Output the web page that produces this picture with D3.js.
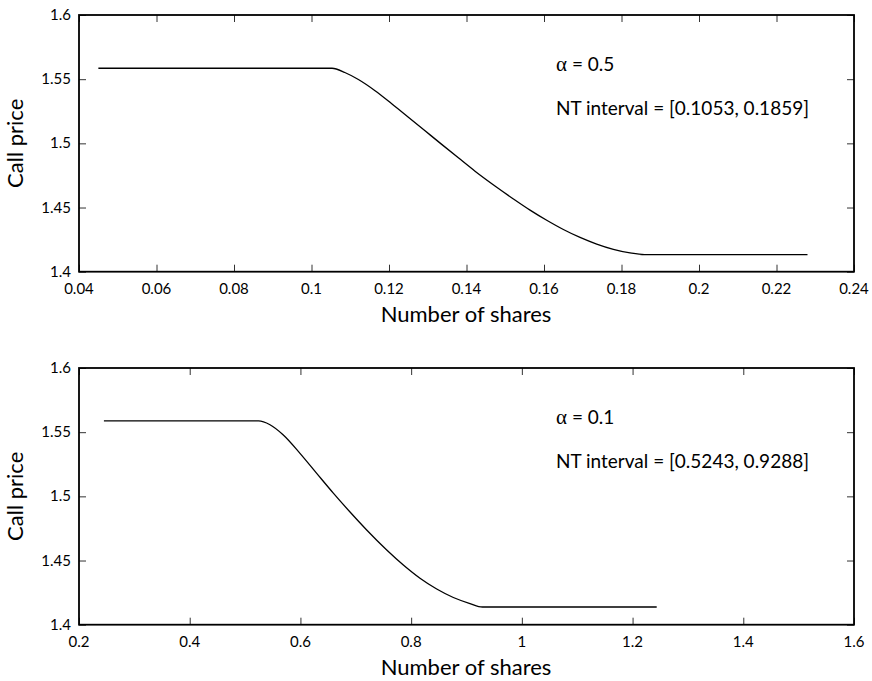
<!DOCTYPE html>
<html>
<head>
<meta charset="utf-8">
<script src="https://cdn.jsdelivr.net/npm/d3@7"></script>
<style>
  html, body { margin: 0; padding: 0; background: #fff; }
  svg { display: block; }
  text { font-family: Lato, "Open Sans", sans-serif; fill: #000; }
</style>
</head>
<body>
<svg id="chart" width="872" height="681"></svg>
<script>
// ---- Data ----
const topShares = [0.045, 0.1053, 0.1086, 0.1121, 0.1164, 0.1207, 0.1250, 0.1293, 0.1336, 0.1379, 0.1422, 0.1478, 0.1521, 0.1564, 0.1607, 0.1650, 0.1693, 0.1736, 0.1779, 0.1822, 0.1859, 0.228];
const topPrice  = [1.5585, 1.5585, 1.5552, 1.5497, 1.5410, 1.5309, 1.5204, 1.5098, 1.4992, 1.4887, 1.4783, 1.4658, 1.4567, 1.4480, 1.4401, 1.4329, 1.4267, 1.4215, 1.4174, 1.4146, 1.4133, 1.4133];

const botShares = [0.245, 0.5243, 0.5450, 0.5691, 0.5992, 0.6294, 0.6594, 0.6896, 0.7197, 0.7559, 0.7859, 0.8160, 0.8462, 0.8762, 0.9063, 0.9288, 1.2436];
const botPrice  = [1.5588, 1.5588, 1.5558, 1.5478, 1.5335, 1.5179, 1.5025, 1.4878, 1.4738, 1.4582, 1.4465, 1.4362, 1.4278, 1.4212, 1.4165, 1.4138, 1.4138];

const topXTicks = [0.04, 0.06, 0.08, 0.1, 0.12, 0.14, 0.16, 0.18, 0.2, 0.22, 0.24];
const botXTicks = [0.2, 0.4, 0.6, 0.8, 1, 1.2, 1.4, 1.6];
const yTicks = [1.4, 1.45, 1.5, 1.55, 1.6];

const topAlpha = "0.5";
const botAlpha = "0.1";
const topInterval = "[0.1053, 0.1859]";
const botInterval = "[0.5243, 0.9288]";

const xLabel = "Number of shares";
const yLabel = "Call price";

// ---- Drawing ----
const svg = d3.select("#chart");
const fmt = d => String(+d.toFixed(4));

function panel(opts) {
  const left = 79, right = 854, top = opts.top, bottom = opts.top + 256.7;
  const x = d3.scaleLinear().domain(opts.xDomain).range([left, right]);
  const y = d3.scaleLinear().domain([1.4, 1.6]).range([bottom, top]);
  const g = svg.append("g");
  const tickLen = 7;

  // inward ticks on all four sides
  const ax = [
    {axis: d3.axisBottom(x).tickValues(opts.xTicks).tickSize(tickLen).tickFormat(""), tr: `translate(0,${top})`},
    {axis: d3.axisTop(x).tickValues(opts.xTicks).tickSize(tickLen).tickFormat(""), tr: `translate(0,${bottom})`},
    {axis: d3.axisRight(y).tickValues(yTicks).tickSize(tickLen).tickFormat(""), tr: `translate(${left},0)`},
    {axis: d3.axisLeft(y).tickValues(yTicks).tickSize(tickLen).tickFormat(""), tr: `translate(${right},0)`}
  ];
  ax.forEach(a => {
    const ag = g.append("g").attr("transform", a.tr).call(a.axis);
    ag.select(".domain").remove();
    ag.selectAll(".tick line").attr("stroke", "#333").attr("stroke-width", 1);
  });

  // tick labels
  g.append("g").selectAll("text").data(opts.xTicks).join("text")
    .attr("x", d => x(d)).attr("y", bottom + 22)
    .attr("text-anchor", "middle").attr("font-size", 15)
    .text(fmt);
  g.append("g").selectAll("text").data(yTicks).join("text")
    .attr("x", left - 8).attr("y", d => y(d) + 5)
    .attr("text-anchor", "end").attr("font-size", 15)
    .text(fmt);

  // frame
  g.append("rect").attr("x", left).attr("y", top)
    .attr("width", right - left).attr("height", bottom - top)
    .attr("fill", "none").attr("stroke", "#000").attr("stroke-width", 1.8);

  // curve
  const pts = opts.xs.map((v, i) => [v, opts.ys[i]]);
  g.append("path").datum(pts)
    .attr("fill", "none").attr("stroke", "#000").attr("stroke-width", 1.3)
    .attr("d", d3.line().x(d => x(d[0])).y(d => y(d[1])).curve(d3.curveMonotoneX));

  // annotations
  const a1 = g.append("text").attr("x", 556).attr("y", top + 56).attr("font-size", 19);
  a1.append("tspan").attr("font-family", "'Liberation Serif', serif").attr("font-size", 21).text("α");
  a1.append("tspan").text(" = " + opts.alpha);
  g.append("text").attr("x", 556).attr("y", top + 100).attr("font-size", 19)
    .text("NT interval = " + opts.interval);

  // axis titles
  g.append("text").attr("x", 466).attr("y", bottom + 50)
    .attr("text-anchor", "middle").attr("font-size", 22).text(xLabel);
  g.append("text").attr("transform", `translate(23,${(top + bottom) / 2}) rotate(-90)`)
    .attr("text-anchor", "middle").attr("font-size", 22).text(yLabel);
}

panel({top: 15, xDomain: [0.04, 0.24], xTicks: topXTicks, xs: topShares, ys: topPrice, alpha: topAlpha, interval: topInterval});
panel({top: 368, xDomain: [0.2, 1.6], xTicks: botXTicks, xs: botShares, ys: botPrice, alpha: botAlpha, interval: botInterval});
</script>
</body>
</html>
